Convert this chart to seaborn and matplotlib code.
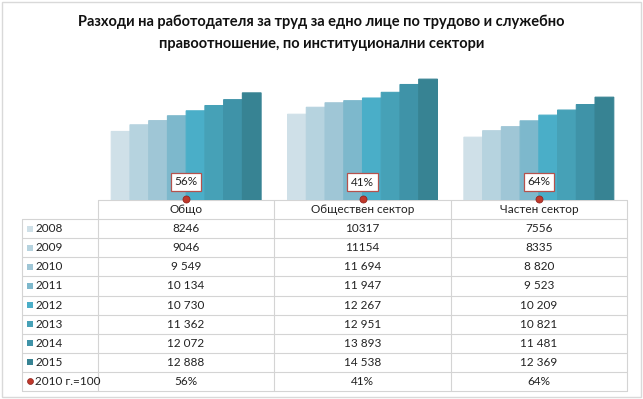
import numpy as np
import pandas as pd
import seaborn as sns
import matplotlib.pyplot as plt
from matplotlib.patches import Rectangle, FancyBboxPatch

sectors = ["Общо", "Обществен сектор", "Частен сектор"]
years = [2008, 2009, 2010, 2011, 2012, 2013, 2014, 2015]
total = [8246, 9046, 9549, 10134, 10730, 11362, 12072, 12888]
public = [10317, 11154, 11694, 11947, 12267, 12951, 13893, 14538]
private = [7556, 8335, 8820, 9523, 10209, 10821, 11481, 12369]
index_2010 = [56, 41, 64]
index_label = "2010 г.=100"
title = "Разходи на работодателя за труд за едно лице по трудово и служебно\nправоотношение, по институционални сектори"

colors = ["#cfe0e8", "#b6d3df", "#9fc6d6", "#7db8cc", "#4aaec8", "#46a1b7", "#3f93a8", "#378393"]

rows = []
for i, y in enumerate(years):
    for s, vals in zip(sectors, [total, public, private]):
        rows.append({"sector": s, "year": str(y), "value": vals[i]})
df = pd.DataFrame(rows)

W, H = 643, 399
sns.set_style("white")
plt.rcParams["font.family"] = ["Lato", "DejaVu Sans"]
fig = plt.figure(figsize=(W / 100, H / 100), dpi=100)

# bar area aligned with the table columns
x0, x1, ybot, ytop = 98, 627, 200, 67
ax = fig.add_axes([x0 / W, 1 - ybot / H, (x1 - x0) / W, (ybot - ytop) / H])
sns.barplot(data=df, x="sector", y="value", hue="year", palette=colors,
            saturation=1, width=0.85, linewidth=0, ax=ax, legend=False)
for p in ax.patches:
    # hide hairline gaps between adjacent bars
    p.set_edgecolor(p.get_facecolor())
    p.set_linewidth(0.8)
    p.set_snap(False)
ax.set_xlim(-0.5, 2.5)
ax.set_ylim(0, 16000)
ax.set_axis_off()

# 2010=100 markers on a secondary axis
ax2 = ax.twinx()
ax2.set_ylim(0, 100)
ax2.set_axis_off()
ax2.scatter(range(3), [v / 100 for v in index_2010], s=26, color="#c0392b",
            edgecolor="#8e1f1a", linewidth=0.5, zorder=5, clip_on=False)
for i, v in enumerate(index_2010):
    ax2.annotate(f"{v}%", (i, v / 100), xytext=(0, 12.5), textcoords="offset points",
                 ha="center", va="center", fontsize=8.5, color="#222222",
                 bbox=dict(boxstyle="square,pad=0.3", fc="white", ec="#b5524d", lw=0.9))

fig.text(0.5, 1 - 33 / H, title, ha="center", va="center", fontsize=10.5,
         fontweight="bold", linespacing=1.7, color="#111111")

# data table drawn in pixel coordinates
tb = fig.add_axes([0, 0, 1, 1], zorder=-1)
tb.set_xlim(0, W)
tb.set_ylim(H, 0)
tb.set_axis_off()
grid = "#d4d4d4"
col_x = [22, 98, 274, 451, 627]
row_y = np.linspace(200, 391, 11)
for k, yy in enumerate(row_y):
    tb.plot([22 if k > 0 else 98, 627], [yy, yy], color=grid, lw=0.8)
for k, xx in enumerate(col_x):
    tb.plot([xx, xx], [row_y[1] if k == 0 else row_y[0], row_y[-1]], color=grid, lw=0.8)

cx = [(col_x[j] + col_x[j + 1]) / 2 for j in range(1, 4)]
for j, s in enumerate(sectors):
    tb.text(cx[j], (row_y[0] + row_y[1]) / 2, s, ha="center", va="center", fontsize=8.5, color="#222222")

for i, y in enumerate(years):
    yc = (row_y[i + 1] + row_y[i + 2]) / 2
    tb.add_patch(Rectangle((27, yc - 3), 6, 6, color=colors[i], lw=0))
    tb.text(35, yc, str(y), ha="left", va="center", fontsize=8.5, color="#222222")
    for j, vals in enumerate([total, public, private]):
        v = vals[i]
        txt = str(v) if y < 2010 else f"{v:,}".replace(",", " ")
        tb.text(cx[j], yc, txt, ha="center", va="center", fontsize=8.5, color="#222222")

yc = (row_y[-2] + row_y[-1]) / 2
tb.scatter([30], [yc], s=18, color="#c0392b", edgecolor="#8e1f1a", linewidth=0.5)
tb.text(35, yc, index_label, ha="left", va="center", fontsize=8.5, color="#222222")
for j, v in enumerate(index_2010):
    tb.text(cx[j], yc, f"{v}%", ha="center", va="center", fontsize=8.5, color="#222222")

fig.patches.append(FancyBboxPatch((0.003, 0.004), 0.994, 0.992, boxstyle="square,pad=0",
                                  transform=fig.transFigure, fc="none", ec="#d9d9d9", lw=1))

fig.savefig("out.png", dpi=100)
